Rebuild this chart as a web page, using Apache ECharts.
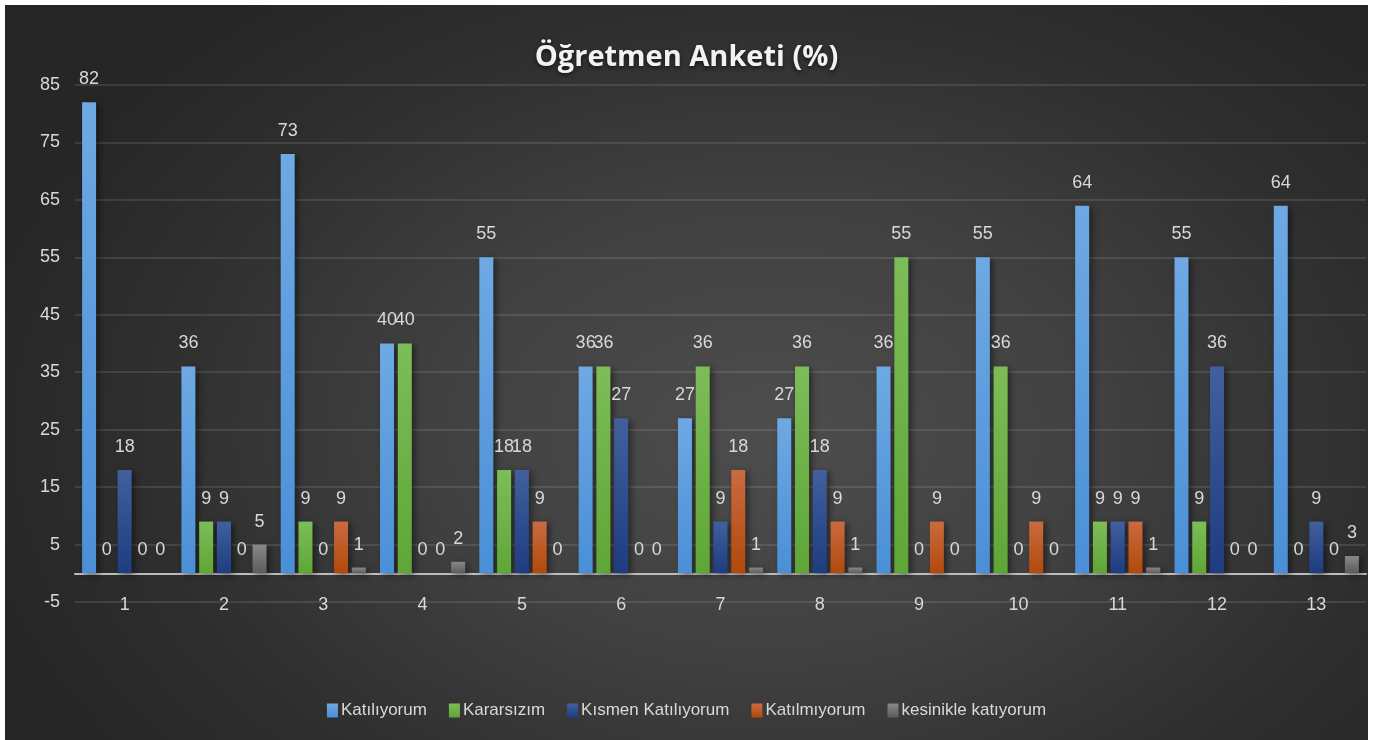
<!DOCTYPE html>
<html>
<head>
<meta charset="utf-8">
<script src="https://cdn.jsdelivr.net/npm/echarts@6/dist/echarts.min.js"></script>
<style>
  html, body { margin: 0; padding: 0; background: #fff; }
  #chart {
    position: absolute;
    left: 5px;
    top: 5px;
    width: 1363px;
    height: 735px;
    background: radial-gradient(ellipse 60% 75% at 56% 58%, #4d4d4d 0%, #414141 40%, #2f2f2f 75%, #262626 100%);
  }
</style>
</head>
<body>
<div id="chart"></div>
<script>
const categories = ['1', '2', '3', '4', '5', '6', '7', '8', '9', '10', '11', '12', '13']
const seriesNames = ['Katılıyorum', 'Kararsızım', 'Kısmen Katılıyorum', 'Katılmıyorum', 'kesinikle katıyorum']
const katiliyorum = [82, 36, 73, 40, 55, 36, 27, 27, 36, 55, 64, 55, 64]
const kararsizim = [0, 9, 9, 40, 18, 36, 36, 36, 55, 36, 9, 9, 0]
const kismen = [18, 9, 0, 0, 18, 27, 9, 18, 0, 0, 9, 36, 9]
const katilmiyorum = [0, 0, 9, 0, 9, 0, 18, 9, 9, 9, 9, 0, 0]
const kesinikle = [0, 5, 1, 2, 0, 0, 1, 1, 0, 0, 1, 0, 3]

const fontName = '"Liberation Sans", Arial, sans-serif'

// renk gecisleri (ust, alt)
const renkler = [
  ['#6ea9e3', '#4a8fd7'],
  ['#7dbd58', '#5ea636'],
  ['#40609e', '#1e3c80'],
  ['#c96b40', '#b2490b'],
  ['#888888', '#5c5c5c']
]

function grad(c) {
  return new echarts.graphic.LinearGradient(0, 0, 0, 1, [
    { offset: 0, color: c[0] },
    { offset: 1, color: c[1] }
  ])
}

const values = [katiliyorum, kararsizim, kismen, katilmiyorum, kesinikle]

const chart = echarts.init(document.getElementById('chart'))

const option = {
  backgroundColor: 'transparent',
  animation: false,
  title: {
    text: 'Öğretmen Anketi (%)',
    left: 'center',
    top: 33,
    textStyle: {
      color: '#f2f2f2',
      fontFamily: '"Open Sans", sans-serif',
      fontWeight: 'bold',
      fontSize: 29,
      textShadowColor: 'rgba(0,0,0,0.6)',
      textShadowBlur: 4,
      textShadowOffsetY: 2
    }
  },
  legend: {
    data: seriesNames,
    top: 692,
    left: 'center',
    icon: 'rect',
    itemWidth: 11,
    itemHeight: 14,
    itemGap: 22,
    textStyle: {
      color: '#d9d9d9',
      fontFamily: fontName,
      fontSize: 17,
      padding: [0, 0, 0, -2]
    }
  },
  grid: {
    left: 70,
    right: 2,
    top: 80,
    bottom: 138
  },
  xAxis: {
    type: 'category',
    data: categories,
    axisLine: {
      onZero: true,
      lineStyle: { color: '#bdbdbd', width: 2 }
    },
    axisTick: { show: false },
    axisLabel: {
      color: '#d9d9d9',
      fontFamily: fontName,
      fontSize: 18,
      margin: -6
    }
  },
  yAxis: {
    type: 'value',
    min: -5,
    max: 85,
    interval: 10,
    axisLine: { show: false },
    axisTick: { show: false },
    axisLabel: {
      color: '#d9d9d9',
      fontFamily: fontName,
      fontSize: 18,
      margin: 15
    },
    splitLine: {
      lineStyle: { color: 'rgba(255,255,255,0.14)', width: 1.5 }
    }
  },
  series: seriesNames.map((name, i) => ({
    name: name,
    type: 'bar',
    data: values[i],
    barWidth: 14,
    barGap: '27%',
    color: renkler[i][1],
    itemStyle: {
      color: grad(renkler[i]),
      shadowColor: 'rgba(0,0,0,0.45)',
      shadowBlur: 6,
      shadowOffsetX: 3,
      shadowOffsetY: 2
    },
    label: {
      show: true,
      position: 'top',
      distance: 14,
      color: '#d9d9d9',
      fontFamily: fontName,
      fontSize: 18
    }
  }))
}

chart.setOption(option)
</script>
</body>
</html>
